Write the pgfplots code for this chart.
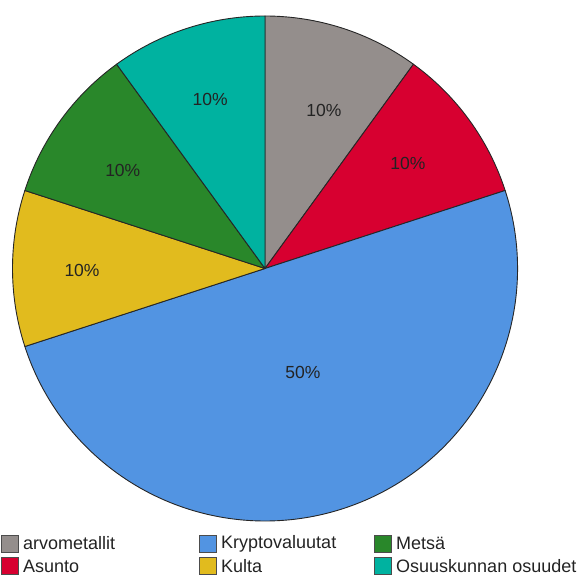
\documentclass[border=0pt]{standalone}
\usepackage{pgfplots}
\usepackage{pgfplotstable}
\pgfplotsset{compat=1.18}
\usepackage{fontspec}
\setmainfont{Liberation Sans}

\definecolor{cArvo}{RGB}{148,142,140}
\definecolor{cAsunto}{RGB}{215,0,48}
\definecolor{cKrypto}{RGB}{82,148,226}
\definecolor{cKulta}{RGB}{225,187,30}
\definecolor{cMetsa}{RGB}{41,135,42}
\definecolor{cOsuus}{RGB}{0,178,160}
\definecolor{txt}{RGB}{35,35,35}

% shares in percent, clockwise from 12 o'clock;
% lr / la: distance (pt) and direction (deg) of the value label from the centre
\pgfplotstableread{
name value fillc lr la
arvometallit 10 cArvo 169 69.6
Asunto 10 cAsunto 177.5 36.4
Kryptovaluutat 50 cKrypto 111 -70
Kulta 10 cKulta 183 180.5
Metsä 10 cMetsa 173 145.3
{Osuuskunnan osuudet} 10 cOsuus 177.5 108
}\sharetable

\def\cx{265}\def\cy{310.5}\def\R{252.5}

\begin{document}
\begin{tikzpicture}
% cumulative start / end angles of every slice
\pgfplotstablegetrowsof{\sharetable}
\pgfmathtruncatemacro\lastrow{\pgfplotsretval-1}
\def\acc{90}
\pgfplotsforeachungrouped \i in {0,...,\lastrow}{%
  \pgfplotstablegetelem{\i}{value}\of\sharetable
  \expandafter\xdef\csname val\i\endcsname{\pgfplotsretval}%
  \pgfmathsetmacro\sweep{3.6*\pgfplotsretval}%
  \expandafter\xdef\csname sa\i\endcsname{\acc}%
  \pgfmathsetmacro\acc{\acc-\sweep}%
  \expandafter\xdef\csname ea\i\endcsname{\acc}%
  \pgfplotstablegetelem{\i}{fillc}\of\sharetable
  \expandafter\xdef\csname col\i\endcsname{\pgfplotsretval}%
  \pgfplotstablegetelem{\i}{lr}\of\sharetable
  \expandafter\xdef\csname lr\i\endcsname{\pgfplotsretval}%
  \pgfplotstablegetelem{\i}{la}\of\sharetable
  \expandafter\xdef\csname la\i\endcsname{\pgfplotsretval}%
  \pgfplotstablegetelem{\i}{name}\of\sharetable
  \expandafter\xdef\csname nm\i\endcsname{\pgfplotsretval}%
}
\begin{axis}[
  x=1pt, y=1pt,
  xmin=0, xmax=581, ymin=0, ymax=579,
  hide axis, clip=false,
]
\pgfplotsinvokeforeach{0,...,5}{%
  \edef\temp{\noexpand\fill[fill=\csname col#1\endcsname, draw=black!85, line width=0.9pt, line join=round]
    (axis cs:\cx,\cy) -- ++(\csname sa#1\endcsname:\R pt)
    arc[start angle=\csname sa#1\endcsname, end angle=\csname ea#1\endcsname, radius=\R pt] -- cycle;}%
  \temp
}
\pgfplotsinvokeforeach{0,...,5}{%
  \edef\temp{\noexpand\path (axis cs:\cx,\cy) ++(\csname la#1\endcsname:\csname lr#1\endcsname pt)
    node[text=txt, inner sep=0pt, font=\noexpand\fontsize{17.5}{20}\noexpand\selectfont] {\csname val#1\endcsname\noexpand\%};}%
  \temp
}
% legend, three columns of two rows
\pgfplotsinvokeforeach{0,...,5}{%
  \pgfmathsetmacro\lx{{1.5,1.5,199.5,199.5,374.5,374.5}[#1]}%
  \pgfmathsetmacro\ly{{35.5,13,35.5,13,35.5,13}[#1]}%
  \edef\temp{\noexpand\draw[fill=\csname col#1\endcsname, draw=black!70, line width=0.9pt]
    (axis cs:\lx,\ly-8.5) rectangle ++(17pt,17pt);
    \noexpand\node[anchor=west, inner sep=0pt, text=txt, font=\noexpand\fontsize{18}{20}\noexpand\selectfont]
    at (axis cs:\lx+21.5,\ly) {\csname nm#1\endcsname};}%
  \temp
}
\end{axis}
\pgfresetboundingbox
\path (0,0) rectangle (581pt,579pt);
\end{tikzpicture}
\end{document}
